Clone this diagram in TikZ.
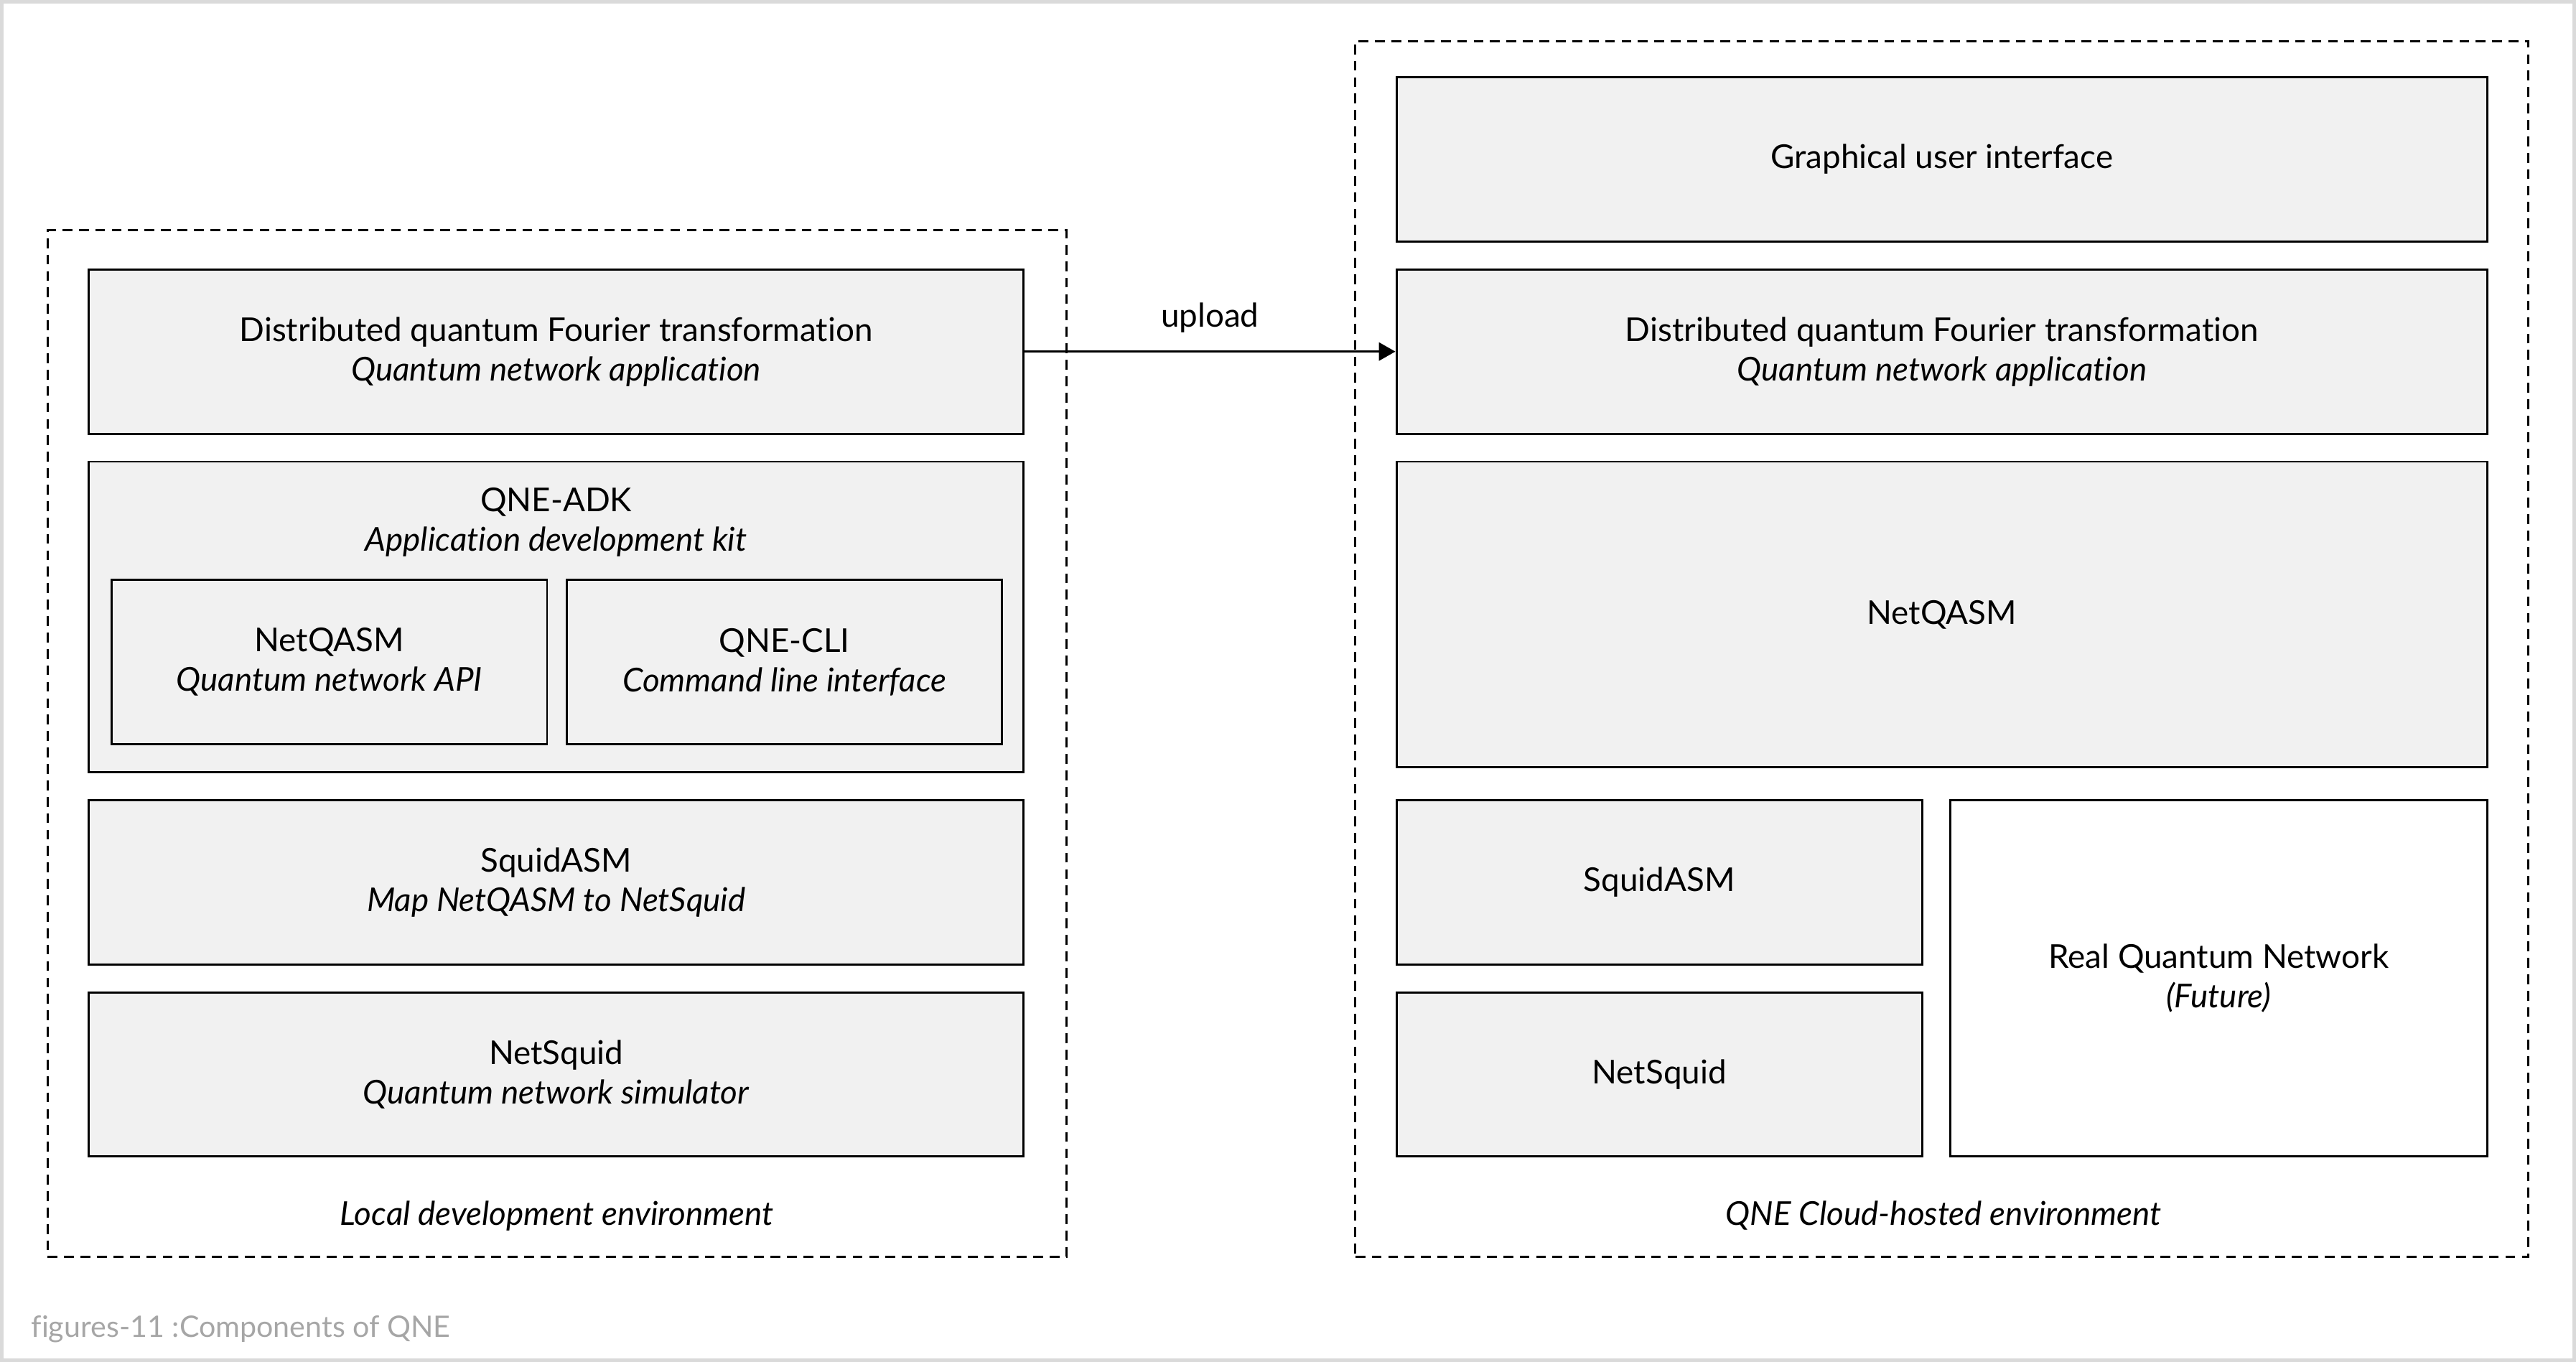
\documentclass[tikz,border=0pt]{standalone}
\usepackage{fontspec}
\setmainfont{Lato}[Ligatures={NoCommon}]
\usetikzlibrary{arrows.meta}
\definecolor{boxgray}{HTML}{F1F1F1}
\definecolor{framegray}{HTML}{DADADA}
\def\Wide{284.5pt}
\def\Half{132.5pt}
\def\Tall{50pt}

\begin{document}
\begin{tikzpicture}[x=0.5pt,y=-0.5pt,
    block/.style={draw, line width=0.65pt, fill=boxgray, align=center,
      font=\fontsize{10pt}{12pt}\selectfont, inner sep=0pt},
    env/.style={draw, line width=0.65pt, dash pattern=on 3pt off 2pt, inner sep=0pt},
    envlabel/.style={font=\fontsize{10pt}{12pt}\selectfont\itshape}]
  \useasboundingbox (0,0) rectangle (1568,829);
  % frame
  \draw[framegray, line width=2pt] (0,0) rectangle (1568,829);
  % environments
  \node[env, minimum width=310pt, minimum height=312.5pt] (local) at (339,452.5) {};
  \node[env, minimum width=357pt, minimum height=370pt] (cloud) at (1182,395) {};
  \node[envlabel] (locallabel) at (339,740) {Local development environment};
  \node[envlabel] (cloudlabel) at (1183,740) {QNE Cloud-hosted environment};
  % local stack
  \node[block, minimum width=\Wide, minimum height=\Tall] (ldqft) at (338.5,214)
    {Distributed quantum Fourier transformation\\ \textit{Quantum network application}};
  \node[block, minimum width=\Wide, minimum height=94.5pt] (adk) at (338.5,375.5) {};
  \node[align=center, font=\fontsize{10pt}{12pt}\selectfont] (adktext) at (338.5,318)
    {QNE-ADK\\ \textit{Application development kit}};
  \node[block, minimum width=\Half, minimum height=\Tall] (lnetqasm) at (200.5,403)
    {NetQASM\\ \textit{Quantum network API}};
  \node[block, minimum width=\Half, minimum height=\Tall] (qnecli) at (477.5,403)
    {QNE-CLI\\ \textit{Command line interface}};
  \node[block, minimum width=\Wide, minimum height=\Tall] (lsquidasm) at (338.5,537)
    {SquidASM\\ \textit{Map NetQASM to NetSquid}};
  \node[block, minimum width=\Wide, minimum height=\Tall] (lnetsquid) at (338.5,654)
    {NetSquid\\ \textit{Quantum network simulator}};
  % cloud stack
  \node[block, minimum width=332pt, minimum height=\Tall] (gui) at (1182,97)
    {Graphical user interface};
  \node[block, minimum width=332pt, minimum height=\Tall] (rdqft) at (1182,214)
    {Distributed quantum Fourier transformation\\ \textit{Quantum network application}};
  \node[block, minimum width=332pt, minimum height=93pt] (rnetqasm) at (1182,374)
    {NetQASM};
  \node[block, minimum width=160pt, minimum height=\Tall] (rsquidasm) at (1010,537)
    {SquidASM};
  \node[block, minimum width=160pt, minimum height=\Tall] (rnetsquid) at (1010,654)
    {NetSquid};
  \node[block, fill=white, minimum width=163.5pt, minimum height=108.5pt] (realqn) at (1350.5,595.5)
    {Real Quantum Network\\ \textit{(Future)}};
  % upload
  \draw[line width=0.65pt, -{Triangle[length=5pt,width=5.5pt]}] (ldqft.east) -- (rdqft.west)
    node[midway, above=2pt, font=\fontsize{10pt}{12pt}\selectfont] (upload) {upload};
  % caption
  \node[anchor=west, text=black!35, font=\fontsize{9pt}{11pt}\selectfont] (caption) at (12,809)
    {figures-11 :Components of QNE};
\end{tikzpicture}
\end{document}
